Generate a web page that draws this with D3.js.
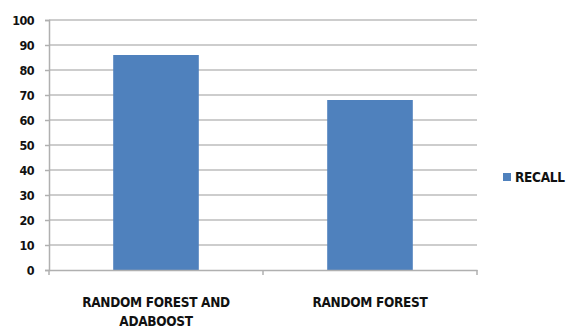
<!DOCTYPE html>
<html>
<head>
<meta charset="utf-8">
<script src="https://cdn.jsdelivr.net/npm/d3@7"></script>
<style>
  body { margin: 0; background: #fff; }
  svg text { font-family: "DejaVu Sans Condensed", "Liberation Sans Narrow", "Liberation Sans", sans-serif; font-weight: bold; fill: #111; }
</style>
</head>
<body>
<svg id="chart"></svg>
<script>
const categories = [["RANDOM FOREST AND", "ADABOOST"], ["RANDOM FOREST"]];
const recall = [86, 68];
const seriesName = 'RECALL';
const yTicks = [0, 10, 20, 30, 40, 50, 60, 70, 80, 90, 100];

const dims = { width: 568, height: 329 };
const plot = { left: 49, right: 477, top: 20, bottom: 270 };

const svg = d3.select('#chart')
  .attr('width', dims.width)
  .attr('height', dims.height);

const x = d3.scaleBand()
  .domain(d3.range(categories.length))
  .range([plot.left, plot.right])
  .padding(0);

const y = d3.scaleLinear()
  .domain([0, 100])
  .range([plot.bottom, plot.top]);

// gridlines
svg.append('g')
  .selectAll('line')
  .data(yTicks.filter(d => d > 0))
  .enter()
  .append('line')
  .attr('x1', plot.left)
  .attr('x2', plot.right)
  .attr('y1', d => y(d))
  .attr('y2', d => y(d))
  .attr('stroke', '#bdbdbd')
  .attr('stroke-width', 1.5);

// bars
const barW = x.bandwidth() * 0.4;
svg.append('g')
  .selectAll('rect')
  .data(recall)
  .enter()
  .append('rect')
  .attr('x', (d, i) => x(i) + (x.bandwidth() - barW) / 2)
  .attr('y', d => y(d))
  .attr('width', barW)
  .attr('height', d => y(0) - y(d))
  .attr('fill', '#4f81bd');

// y axis
const yAxis = svg.append('g')
  .attr('transform', `translate(${plot.left},0)`)
  .call(d3.axisLeft(y).tickValues(yTicks).tickSize(4).tickPadding(11));
yAxis.select('.domain').attr('stroke', '#b0b0b0').attr('stroke-width', 1.5);
yAxis.selectAll('.tick line').attr('stroke', '#b0b0b0').attr('stroke-width', 1.5);
yAxis.selectAll('.tick text')
  .style('font-size', '12.5px')
  .style('letter-spacing', '-0.6px')
  .attr('fill', '#111');

// x axis
const xAxis = svg.append('g')
  .attr('transform', `translate(0,${plot.bottom})`)
  .call(d3.axisBottom(x).tickSize(0).tickFormat(''));
xAxis.select('.domain').attr('stroke', '#b0b0b0').attr('stroke-width', 1.5);
xAxis.selectAll('.tick').remove();

// x tick marks between categories
svg.append('g')
  .selectAll('line')
  .data(d3.range(categories.length + 1))
  .enter()
  .append('line')
  .attr('x1', i => i === categories.length ? plot.right : x(i))
  .attr('x2', i => i === categories.length ? plot.right : x(i))
  .attr('y1', plot.bottom)
  .attr('y2', plot.bottom + 5)
  .attr('stroke', '#b0b0b0')
  .attr('stroke-width', 1.5);

// category labels
const lab = svg.append('g')
  .selectAll('text')
  .data(categories)
  .enter()
  .append('text')
  .attr('text-anchor', 'middle')
  .style('font-size', '13.5px')
  .style('letter-spacing', '-0.3px')
  .attr('x', (d, i) => x(i) + x.bandwidth() / 2)
  .attr('y', 307);
lab.selectAll('tspan')
  .data(d => d)
  .enter()
  .append('tspan')
  .attr('x', function () { return d3.select(this.parentNode).attr('x'); })
  .attr('dy', (d, i) => i === 0 ? 0 : 19)
  .text(d => d);

// legend
const legendG = svg.append('g')
  .attr('transform', 'translate(503,173)');
legendG.append('rect')
  .attr('width', 8)
  .attr('height', 8)
  .attr('fill', '#4f81bd');
legendG.append('text')
  .attr('x', 12)
  .attr('y', 9)
  .style('font-size', '13.5px')
  .style('letter-spacing', '-0.3px')
  .text(seriesName);
</script>
</body>
</html>
